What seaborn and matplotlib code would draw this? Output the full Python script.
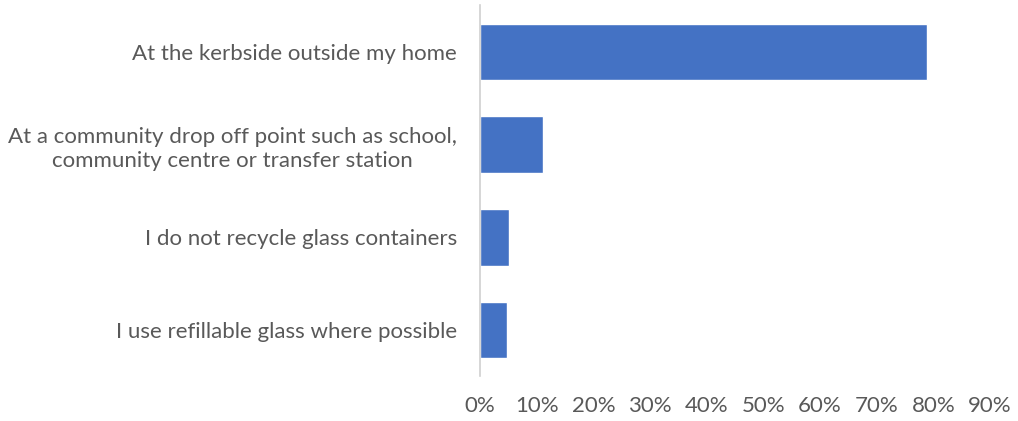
import matplotlib
matplotlib.use("Agg")
import matplotlib.pyplot as plt
import seaborn as sns
import pandas as pd
from matplotlib.ticker import PercentFormatter

categories = [
    "At the kerbside outside my home",
    "At a community drop off point such as school,\ncommunity centre or transfer station",
    "I do not recycle glass containers",
    "I use refillable glass where possible",
]
shares = [78.8, 11.1, 5.1, 4.7]
x_ticks = [0, 10, 20, 30, 40, 50, 60, 70, 80, 90]

df = pd.DataFrame({"category": categories, "share": shares})

sns.set_theme(style="white")
plt.rcParams["font.family"] = ["Lato", "DejaVu Sans"]

fig = plt.figure(figsize=(10.18, 4.21), dpi=100)
ax = fig.add_axes([0.4715, 0.106, 0.501, 0.881])

sns.barplot(data=df, x="share", y="category", color="#4472C4",
            width=0.61, saturation=1, ax=ax)

ax.set_xlim(0, 90)
ax.set_xticks(x_ticks)
ax.xaxis.set_major_formatter(PercentFormatter(decimals=0))
ax.set_xlabel("")
ax.set_ylabel("")
ax.tick_params(axis="both", length=0, labelsize=16, colors="#595959")
ax.tick_params(axis="y", pad=16.5)
ax.tick_params(axis="x", pad=14)
for lbl in ax.get_yticklabels():
    lbl.set_horizontalalignment("right")
    lbl.set_multialignment("center")
    lbl.set_linespacing(1.25)

for side in ["top", "right", "bottom"]:
    ax.spines[side].set_visible(False)
ax.spines["left"].set_color("#D0D0D0")
ax.spines["left"].set_linewidth(1.2)

fig.savefig("out.png", dpi=100)
